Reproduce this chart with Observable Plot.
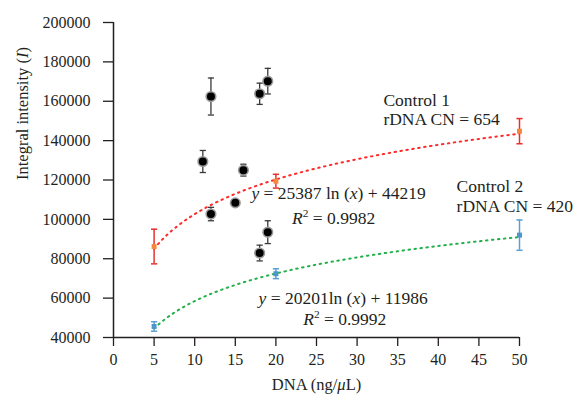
<!DOCTYPE html>
<html><head><meta charset="utf-8">
<script src="https://cdn.jsdelivr.net/npm/d3@7"></script>
<script src="https://cdn.jsdelivr.net/npm/@observablehq/plot@0.6"></script>
<style>
body{margin:0;background:#fff;}
svg{font-family:"Liberation Serif","DejaVu Serif",serif;}
</style>
</head><body><div id="chart"></div>
<script>
// ---- data ----
const sampleX   = [11, 12, 12, 15, 16, 18, 18, 19, 19];
const sampleY   = [129400, 162400, 102700, 108400, 125000, 163800, 82900, 170200, 93500];
const sampleErr = [5600, 9400, 3400, 1000, 3000, 5400, 4000, 6500, 5800];

const control1X   = [5, 20, 50];
const control1Y   = [86200, 119400, 144800];
const control1Err = [8800, 3500, 6400];

const control2X   = [5, 20, 50];
const control2Y   = [45600, 72400, 92000];
const control2Err = [2400, 2500, 7700];

// logarithmic trend lines printed on the chart: y = a ln(x) + b
const fitSlope     = [25387, 20201];
const fitIntercept = [44219, 11986];
const fitRange     = [5, 50];

const xTicks = [0, 5, 10, 15, 20, 25, 30, 35, 40, 45, 50];
const yTicks = [40000, 60000, 80000, 100000, 120000, 140000, 160000, 180000, 200000];

const labelText = ["Control 1", "rDNA CN = 654", "Control 2", "rDNA CN = 420"];
const labelX = [33.24, 33.24, 42.25, 42.25];
const labelY = [160430, 150630, 116760, 106600];

// _..._ = italic, ^..^ = superscript
const eqText = ["_y_ = 25387 ln (_x_) + 44219", "_R_^2^ = 0.9982",
  "_y_ = 20201ln (_x_) + 11986", "_R_^2^ = 0.9992"];
const eqX = [27.72, 27.11, 28.28, 28.48];
const eqY = [113400, 100700, 60070, 49410];

// ---- build tables ----
const rows = (xs, ys, es) => xs.map((x, i) => ({x, y: ys[i], lo: ys[i] - es[i], hi: ys[i] + es[i]}));
const samples = rows(sampleX, sampleY, sampleErr);
const c1 = rows(control1X, control1Y, control1Err);
const c2 = rows(control2X, control2Y, control2Err);
const curve = (k) => d3.range(fitRange[0], fitRange[1] + 0.001, 0.25)
  .map(x => ({x, y: fitSlope[k] * Math.log(x) + fitIntercept[k]}));
const labels = labelText.map((t, i) => ({t, x: labelX[i], y: labelY[i]}));
const eqs = eqText.map((t, i) => ({t, x: eqX[i], y: eqY[i]}));

const cap = {draw(ctx, size) { const w = Math.sqrt(size); ctx.moveTo(-w, 0); ctx.lineTo(w, 0); }};
const ink = "#231f20";

function bars(data, color, w) {
  return [
    Plot.ruleX(data, {x: "x", y1: "lo", y2: "hi", stroke: color, strokeWidth: w}),
    Plot.dot(data, {x: "x", y: "lo", symbol: cap, r: 1.75, stroke: color, strokeWidth: w, fill: "none"}),
    Plot.dot(data, {x: "x", y: "hi", symbol: cap, r: 1.75, stroke: color, strokeWidth: w, fill: "none"})
  ];
}

const chart = Plot.plot({
  width: 582, height: 398,
  marginLeft: 113, marginRight: 63, marginTop: 22, marginBottom: 61,
  x: {domain: [0, 50]},
  y: {domain: [40000, 200000]},
  style: {fontFamily: "'Liberation Serif', serif", fontSize: "16px", color: ink, background: "white", overflow: "visible"},
  marks: [
    Plot.axisX({ticks: xTicks, tickSize: 9, tickPadding: 7, label: null, tickFormat: d => String(d), stroke: ink, strokeWidth: 1.3}),
    Plot.axisY({ticks: yTicks, tickSize: 10, tickPadding: 13, label: null, tickFormat: d => String(d), stroke: ink, strokeWidth: 1.3}),
    Plot.ruleX([0], {y1: 40000, y2: 200000, stroke: ink, strokeWidth: 1.5}),
    Plot.ruleY([40000], {x1: 0, x2: 50, stroke: ink, strokeWidth: 1.5}),
    Plot.line(curve(0), {x: "x", y: "y", stroke: "#ff2b2b", strokeWidth: 2, strokeDasharray: "1.5,4.5"}),
    Plot.line(curve(1), {x: "x", y: "y", stroke: "#22b04b", strokeWidth: 2, strokeDasharray: "1.5,4.5"}),
    ...bars(samples, "#3a3a3a", 1.3),
    Plot.dot(samples, {x: "x", y: "y", r: 4.8, fill: "black", stroke: "#9a9a9a", strokeWidth: 1.6}),
    ...bars(c1, "#e8302f", 1.5),
    Plot.dot(c1, {x: "x", y: "y", symbol: "square", r: 2.8, fill: "#f5883a"}),
    ...bars(c2, "#5a9fd4", 1.5),
    Plot.dot(c2, {x: "x", y: "y", symbol: "square", r: 2.8, fill: "#4d96cc"}),
    Plot.text(labels, {x: "x", y: "y", text: "t", textAnchor: "start", fill: ink, fontSize: 17.5, lineAnchor: "middle"}),
    Plot.text(eqs, {x: "x", y: "y", text: "t", textAnchor: "middle", fill: ink, fontSize: 17.5, lineAnchor: "middle"}),
    Plot.text(["DNA (ng/_μ_L)"], {frameAnchor: "bottom", dy: 47, fill: ink, fontSize: 16.5, lineAnchor: "middle"}),
    Plot.text(["Integral intensity (_I_)"], {frameAnchor: "left", dx: -91, rotate: -90, fill: ink, fontSize: 16.5, lineAnchor: "middle"})
  ]
});

// rich text: _..._ italic, ^..^ superscript
const NS = "http://www.w3.org/2000/svg";
d3.select(chart).selectAll("text").each(function() {
  const el = this;
  const s = el.textContent;
  if (el.children.length !== 0 || !/[_^]/.test(s)) return;
  el.textContent = "";
  const tokens = s.split(/(_[^_]*_|\^[^^]*\^)/);
  let shifted = false;
  tokens.forEach(tok => {
    if (!tok) return;
    const ts = document.createElementNS(NS, "tspan");
    if (tok[0] === "_") {
      ts.textContent = tok.slice(1, -1);
      ts.setAttribute("font-style", "italic");
    } else if (tok[0] === "^") {
      ts.textContent = tok.slice(1, -1);
      ts.setAttribute("font-size", "0.65em");
      ts.setAttribute("dy", "-0.6em");
      shifted = true;
    } else {
      ts.textContent = tok;
      if (shifted) { ts.setAttribute("dy", "0.39em"); shifted = false; }
    }
    el.appendChild(ts);
  });
});

document.getElementById("chart").appendChild(chart);
</script>
</body></html>
